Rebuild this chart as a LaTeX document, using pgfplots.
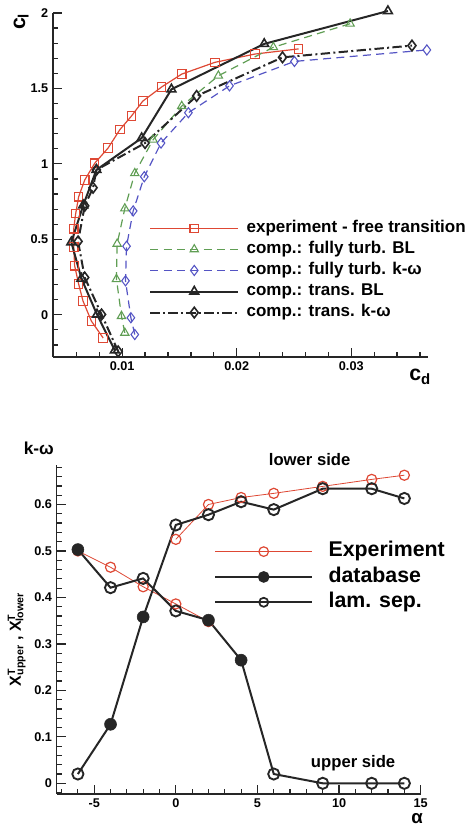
\documentclass[border=0pt]{standalone}
\usepackage{fontspec}
\setmainfont{Liberation Sans}
\usepackage{pgfplots}
\pgfplotsset{compat=1.18}

\definecolor{expred}{RGB}{222,72,52}
\definecolor{turbgreen}{RGB}{96,158,84}
\definecolor{turbblue}{RGB}{84,84,196}
\definecolor{darkline}{RGB}{38,38,38}

\tikzset{tk/.style={darkline, line width=0.9pt}}

\pgfplotsset{
  paperstyle/.style={
    scale only axis,
    anchor=south west,
    axis lines*=left,
    axis line style={line width=1.2pt, darkline},
    tick style={darkline, line width=0.9pt},
    tick align=inside,
    major tick length=7pt,
    tick label style={font=\fontsize{9.5}{11}\selectfont\bfseries},
    /pgf/number format/assume math mode=true,
    scaled ticks=false,
    clip=false,
  },
}

\begin{document}
\begin{tikzpicture}
\useasboundingbox (0,0) rectangle (356.25pt,620.25pt);

% ---------------- top: drag polar ----------------
\begin{axis}[paperstyle,
  at={(39.75pt,352.5pt)},
  width=281.25pt, height=258pt,
  xmin=0.00396, xmax=0.0367,
  ymin=-0.28, ymax=2,
  xtick={0.01,0.02,0.03}, xticklabels={0.01,0.02,0.03},
  ytick={0,0.5,1,1.5,2}, yticklabels={0,0.5,1,1.5,2},
  legend style={at={(0.256,0.401)}, anchor=north west, draw=none, fill=none,
    inner sep=0pt, row sep=2.3pt,
    font=\fontsize{12.75}{14}\selectfont\bfseries,
    nodes={inner sep=0.5pt, text height=9.5pt, text depth=3pt},
    /tikz/every odd column/.append style={column sep=5pt}},
  legend cell align=left,
  legend image code/.code={\draw[mark repeat=2,mark phase=2,#1] plot coordinates {(0pt,0pt) (33pt,0pt) (66pt,0pt)};},
]
\addplot[expred, line width=0.9pt, mark=square, mark size=3.2pt,
  mark options={solid, line width=0.8pt, fill=white}] coordinates {
  (0.00834,-0.154) (0.00731,-0.042) (0.00658,0.091) (0.0062,0.203)
  (0.00585,0.325) (0.00577,0.448) (0.00577,0.570) (0.00594,0.670)
  (0.0062,0.782) (0.00673,0.893) (0.0076,1.004) (0.00877,1.105)
  (0.0098,1.227) (0.0108,1.316) (0.0118,1.416) (0.01345,1.510)
  (0.0152,1.595) (0.0181,1.673) (0.0216,1.728) (0.0254,1.762)
};
\addlegendentry{experiment - free transition}
\addplot[turbgreen, line width=0.9pt, dash pattern=on 6pt off 4pt, mark=triangle, mark size=3.6pt,
  mark options={solid, line width=0.8pt, fill=white}] coordinates {
  (0.01023,-0.12) (0.00994,-0.009) (0.0095,0.236) (0.00956,0.470)
  (0.01023,0.704) (0.0111,0.938) (0.0127,1.160) (0.0152,1.383)
  (0.0184,1.584) (0.0232,1.773) (0.0299,1.929)
};
\addlegendentry{comp.: fully turb. BL}
\addplot[turbblue, line width=0.9pt, dash pattern=on 6pt off 4pt, mark=diamond, mark size=3.8pt,
  mark options={solid, line width=0.8pt, fill=white}] coordinates {
  (0.0111,-0.131) (0.01076,-0.02) (0.01029,0.225) (0.01038,0.454)
  (0.01096,0.688) (0.01193,0.915) (0.01339,1.138) (0.01578,1.339)
  (0.01937,1.517) (0.02504,1.679) (0.0366,1.755)
};
\addlegendentry{comp.: fully turb. k-ω}
\addplot[darkline, line width=1.5pt, mark=triangle, mark size=3.8pt,
  mark options={solid, line width=1.2pt, fill=white}] coordinates {
  (0.00936,-0.236) (0.0078,0.002) (0.00644,0.24) (0.00556,0.481)
  (0.0066,0.726) (0.00775,0.960) (0.0117,1.171) (0.0143,1.494)
  (0.0224,1.795) (0.0332,2.013)
};
\addlegendentry{comp.: trans. BL}
\addplot[darkline, line width=1.5pt, dash pattern=on 7pt off 2.5pt on 1.5pt off 2.5pt,
  mark=diamond, mark size=4pt,
  mark options={solid, line width=1.2pt, fill=white}] coordinates {
  (0.00965,-0.243) (0.0082,0.002) (0.00673,0.247) (0.00615,0.486)
  (0.00673,0.722) (0.00746,0.842) (0.00775,0.960) (0.0120,1.138)
  (0.0165,1.450) (0.0240,1.706) (0.0353,1.784)
};
\addlegendentry{comp.: trans. k-ω}
% tick marks along both axes
\pgfplotsinvokeforeach{0.004,0.006,0.008,0.012,0.014,0.016,0.018,0.022,0.024,0.026,0.028,0.032,0.034,0.036}{
  \draw[tk] (axis cs:#1,-0.28) -- ++(0pt,3.8pt);}
\pgfplotsinvokeforeach{0.01,0.02,0.03}{
  \draw[tk] (axis cs:#1,-0.28) -- ++(0pt,7pt);}
\pgfplotsinvokeforeach{-0.2,-0.1,0.1,0.2,0.3,0.4,0.6,0.7,0.8,0.9,1.1,1.2,1.3,1.4,1.6,1.7,1.8,1.9}{
  \draw[tk] (axis cs:0.00396,#1) -- ++(3.8pt,0pt);}
\pgfplotsinvokeforeach{0,0.5,1,1.5,2}{
  \draw[tk] (axis cs:0.00396,#1) -- ++(7pt,0pt);}
\node[rotate=90, font=\fontsize{16}{18}\selectfont\bfseries] at (axis description cs:-0.085,0.975) {c\textsubscript{l}};
\node[font=\fontsize{16}{18}\selectfont\bfseries] at (axis description cs:0.979,-0.058) {c\textsubscript{d}};
\end{axis}

% ---------------- bottom: transition location ----------------
\begin{axis}[paperstyle,
  at={(42.5pt,24.75pt)},
  width=273pt, height=246.75pt,
  xmin=-7.3, xmax=15,
  ymin=-0.023, ymax=0.685,
  xtick={-5,0,5,10,15}, xticklabels={-5,0,5,10,15},
  ytick={0,0.1,0.2,0.3,0.4,0.5,0.6}, yticklabels={0,0.1,0.2,0.3,0.4,0.5,0.6},
  legend style={at={(0.432,0.772)}, anchor=north west, draw=none, fill=none,
    inner sep=0pt, row sep=2pt,
    font=\fontsize{16}{18}\selectfont\bfseries,
    nodes={inner sep=0.5pt, text height=12pt, text depth=4pt},
    /tikz/every odd column/.append style={column sep=11pt}},
  legend cell align=left,
  legend image code/.code={\draw[mark repeat=2,mark phase=2,#1] plot coordinates {(0pt,0pt) (36.4pt,0pt) (72.8pt,0pt)};},
]
\addlegendimage{expred, line width=0.6pt, mark=o, mark size=3.6pt, mark options={line width=0.9pt, fill=white}}
\addlegendentry{Experiment}
\addlegendimage{darkline, line width=1.5pt, mark=*, mark size=3.6pt}
\addlegendentry{database}
\addlegendimage{darkline, line width=1.5pt, mark=o, mark size=3.4pt, mark options={line width=1.3pt, fill=white}}
\addlegendentry{lam. sep.}

% experiment (red)
\addplot[forget plot, expred, line width=0.6pt, mark=o, mark size=3.8pt,
  mark options={line width=0.9pt, fill=white}] coordinates {
  (-6,0.50) (-4,0.465) (-2,0.423) (0,0.386) (2,0.348)
};
\addplot[forget plot, expred, line width=0.6pt, mark=o, mark size=3.8pt,
  mark options={line width=0.9pt, fill=white}] coordinates {
  (0,0.525) (2,0.60) (4,0.615) (6,0.624) (9,0.639) (12,0.654) (14,0.663)
};
% computed: upper side and lower side
\addplot[forget plot, darkline, line width=1.5pt] coordinates {
  (-6,0.503) (-4,0.421) (-2,0.441) (0,0.371) (2,0.351) (4,0.265)
  (6,0.020) (9,0) (12,0) (14,0)
};
\addplot[forget plot, darkline, line width=1.5pt] coordinates {
  (-6,0.020) (-4,0.127) (-2,0.358) (0,0.556) (2,0.578) (4,0.606)
  (6,0.589) (9,0.634) (12,0.634) (14,0.613)
};
% database points
\addplot[forget plot, only marks, darkline, mark=*, mark size=4.5pt] coordinates {
  (-6,0.503) (2,0.351) (4,0.265) (-4,0.127) (-2,0.358)
};
% laminar separation points
\addplot[forget plot, only marks, darkline, mark=o, mark size=4.2pt,
  mark options={line width=1.4pt, fill=white}] coordinates {
  (-4,0.421) (-2,0.441) (0,0.371) (6,0.020) (9,0) (12,0) (14,0)
  (-6,0.020) (0,0.556) (2,0.578) (4,0.606) (6,0.589) (9,0.634) (12,0.634) (14,0.613)
};
% tick marks along both axes
\pgfplotsinvokeforeach{-7,-6,-4,-3,-2,-1,1,2,3,4,6,7,8,9,11,12,13,14}{
  \draw[tk] (axis cs:#1,-0.023) -- ++(0pt,3.8pt);}
\pgfplotsinvokeforeach{-5,0,5,10,15}{
  \draw[tk] (axis cs:#1,-0.023) -- ++(0pt,7pt);}
\pgfplotsinvokeforeach{-0.02,0.02,0.04,0.06,0.08,0.12,0.14,0.16,0.18,0.22,0.24,0.26,0.28,0.32,0.34,0.36,0.38,0.42,0.44,0.46,0.48,0.52,0.54,0.56,0.58,0.62,0.64,0.66,0.68}{
  \draw[tk] (axis cs:-7.3,#1) -- ++(3.8pt,0pt);}
\pgfplotsinvokeforeach{0,0.1,0.2,0.3,0.4,0.5,0.6}{
  \draw[tk] (axis cs:-7.3,#1) -- ++(7pt,0pt);}
\node[font=\fontsize{12.5}{14}\selectfont\bfseries] at (axis cs:8.2,0.697) {lower side};
\node[font=\fontsize{12.5}{14}\selectfont\bfseries] at (axis cs:10.86,0.043) {upper side};
\node[font=\fontsize{13}{15}\selectfont\bfseries] at (axis description cs:-0.049,1.052) {k-ω};
\node[font=\fontsize{14}{16}\selectfont\bfseries] at (axis description cs:0.99,-0.074) {α};
\node[rotate=90, font=\fontsize{12}{14}\selectfont\bfseries] at (axis description cs:-0.11,0.47)
  {X\rlap{\textsuperscript{T}}\textsubscript{upper} , X\rlap{\textsuperscript{T}}\textsubscript{lower}};
\end{axis}
\end{tikzpicture}
\end{document}
